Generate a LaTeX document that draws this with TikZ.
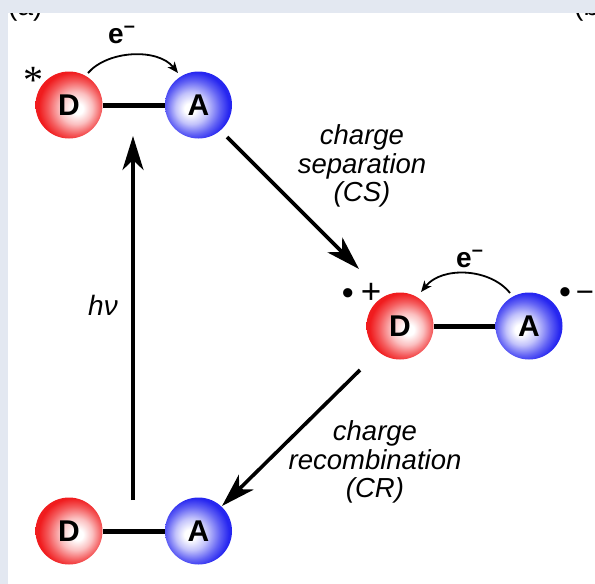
\documentclass[tikz,border=0pt]{standalone}
\usepackage{fontspec}
\setmainfont{Liberation Sans}
\newfontfamily\serifast{Liberation Serif}
\usetikzlibrary{arrows.meta}
\definecolor{band}{RGB}{227,232,241}
\definecolor{myred}{RGB}{240,28,30}
\definecolor{myblue}{RGB}{38,38,240}
\pgfdeclareradialshading{redball}{\pgfpoint{7bp}{-3bp}}{color(0bp)=(white); color(4bp)=(white); color(12bp)=(myred!28!white); color(20bp)=(myred!72!white); color(26bp)=(myred); color(50bp)=(myred)}
\pgfdeclareradialshading{blueball}{\pgfpoint{-7bp}{-3bp}}{color(0bp)=(white); color(4bp)=(white); color(12bp)=(myblue!28!white); color(20bp)=(myblue!72!white); color(26bp)=(myblue); color(50bp)=(myblue)}
\tikzset{
  dball/.style={circle, minimum size=67pt, inner sep=0pt, shading=redball, font=\fontsize{30}{30}\selectfont\bfseries},
  aball/.style={circle, minimum size=67pt, inner sep=0pt, shading=blueball, font=\fontsize{30}{30}\selectfont\bfseries},
  bond/.style={line width=5pt},
  bigarrow/.style={line width=3.6pt, -{Stealth[length=34pt,width=21pt,inset=10pt]}},
  etrans/.style={line width=1.8pt, -{Stealth[length=11pt,width=9pt,inset=3pt]}},
  lbl/.style={font=\fontsize{27.5}{28.5}\selectfont\itshape, align=center, inner sep=0pt},
  elbl/.style={anchor=base west, inner sep=0pt, font=\fontsize{28}{28}\selectfont\bfseries},
  chg/.style={anchor=base west, inner sep=0pt, font=\fontsize{35}{35}\selectfont},
  cut/.style={anchor=base west, inner sep=0pt, font=\fontsize{28}{28}\selectfont}
}
\newcommand{\esup}{e\raisebox{0.36em}{\fontsize{20}{20}\selectfont\bfseries –}}
\newcommand{\bigdot}{\raisebox{-1.5pt}{\fontsize{34}{34}\selectfont •}}
\begin{document}
\begin{tikzpicture}[x=1pt,y=-1pt]
\useasboundingbox (0,0) rectangle (595,584);
\clip (0,0) rectangle (595,584);
\fill[white] (0,0) rectangle (595,584);
\node[cut] (pa) at (8,15) {(a)};
\node[cut] (pb) at (574,15) {(b)};
\fill[band] (0,0) rectangle (595,13);
\fill[band] (0,0) rectangle (8,584);
% spheres
\node[dball] (D1) at (69,105) {D};
\node[aball] (A1) at (198.5,105) {A};
\node[dball] (D2) at (400,326) {D};
\node[aball] (A2) at (529,326) {A};
\node[dball] (D3) at (69,531) {D};
\node[aball] (A3) at (198.5,531) {A};
\draw[bond] (D1) -- (A1);
\draw[bond] (D2) -- (A2);
\draw[bond] (D3) -- (A3);
% superscripts
\node[anchor=base, inner sep=0pt, font=\fontsize{40}{40}\selectfont\serifast] (ast) at (33.5,93) {*};
\node[chg] (pl) at (341.7,303) {\bigdot\hspace{7pt}+};
\node[chg] (mi) at (558.8,302) {\bigdot\hspace{5pt}{\fontsize{31}{31}\selectfont −}};
% electron transfers
\node[elbl] (e1) at (108,43) {\esup};
\node[elbl] (e2) at (456,267) {\esup};
\coordinate (t1s) at (88,73);
\coordinate (t1e) at (178,73);
\draw[etrans] (t1s) .. controls (108,50) and (158,48) .. (t1e);
\coordinate (t2s) at (510,293);
\coordinate (t2e) at (421,292);
\draw[etrans] (t2s) .. controls (490,268) and (442,266) .. (t2e);
% process arrows
\coordinate (cs1) at (227,137);
\coordinate (cs2) at (359,269);
\draw[bigarrow] (cs1) -- (cs2);
\coordinate (cr1) at (360,370);
\coordinate (cr2) at (222,506);
\draw[bigarrow] (cr1) -- (cr2);
\coordinate (hv1) at (133,500);
\coordinate (hv2) at (133,136);
\draw[bigarrow] (hv1) -- (hv2);
% labels
\node[lbl] (cs) at (362,166) {charge\\separation\\(CS)};
\node[lbl] (cr) at (375,462) {charge\\recombination\\(CR)};
\node[inner sep=0pt, font=\fontsize{28}{28}\selectfont\itshape] (hv) at (103,305) {hν};
\end{tikzpicture}
\end{document}
